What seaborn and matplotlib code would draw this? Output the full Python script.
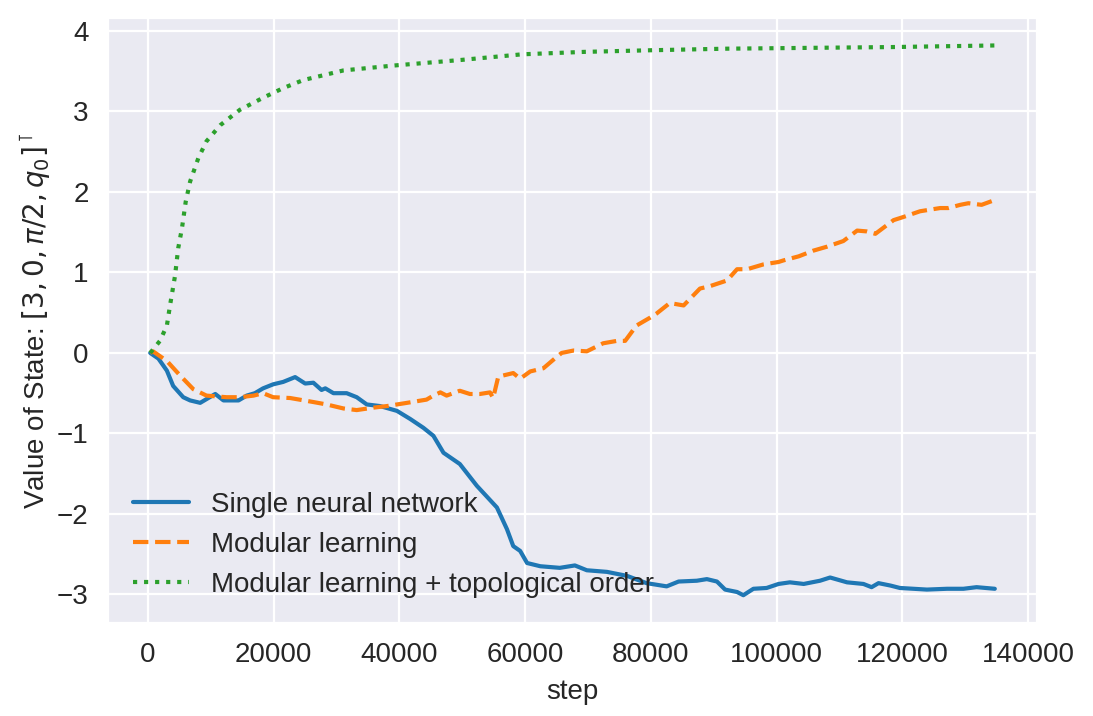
import numpy as np
import pandas as pd
import matplotlib
matplotlib.use("Agg")
import matplotlib.pyplot as plt
import seaborn as sns

# valores
steps_single = [350, 1650, 3000, 4000, 5600, 6700, 8300, 9600, 10700, 12000, 13300, 14400,
                15700, 17000, 18300, 19900, 21500, 23400, 25000, 26300, 27600, 28200,
                29500, 31600, 33200, 34800, 36900, 39600, 41700, 43800, 45400, 47000,
                49600, 52300, 55500, 57100, 58100, 59200, 60300, 62400, 65500, 67900,
                69800, 73000, 76200, 79300, 82500, 84400, 87300, 88900, 90500, 91800,
                93700, 94700, 96300, 98400, 100300, 102100, 104300, 106900, 108500,
                111200, 113800, 115100, 116200, 118100, 119600, 123900, 127100, 129700,
                131800, 134700]
value_single = [0.00, -0.07, -0.22, -0.41, -0.55, -0.59, -0.62, -0.56, -0.51, -0.59, -0.59, -0.59,
                -0.53, -0.50, -0.44, -0.39, -0.36, -0.30, -0.38, -0.37, -0.46, -0.44,
                -0.50, -0.50, -0.55, -0.64, -0.66, -0.72, -0.82, -0.93, -1.03, -1.24,
                -1.38, -1.65, -1.92, -2.19, -2.40, -2.46, -2.61, -2.65, -2.67, -2.64,
                -2.70, -2.72, -2.77, -2.86, -2.90, -2.84, -2.83, -2.81, -2.84, -2.94,
                -2.97, -3.01, -2.93, -2.92, -2.87, -2.85, -2.87, -2.83, -2.79,
                -2.85, -2.87, -2.91, -2.86, -2.89, -2.92, -2.94, -2.93, -2.93,
                -2.91, -2.93]

steps_modular = [350, 800, 3000, 5100, 7200, 9300, 12500, 14600, 16800, 18300, 19900, 22600,
                 26300, 28400, 31100, 33200, 35800, 38000, 41200, 44300, 45400, 46500,
                 47500, 49600, 51200, 52800, 54400, 54900, 55700, 56500, 58100, 59200,
                 60800, 62900, 65000, 65800, 67700, 69800, 72400, 74600, 75900, 77700,
                 79900, 80900, 83000, 85200, 87800, 89400, 92100, 93700, 95300, 97900,
                 100300, 101100, 103500, 105800, 108000, 110600, 112800, 114300, 115700,
                 118600, 120200, 122800, 126000, 127300, 129200, 130500, 132600, 134700]
value_modular = [0.00, 0.02, -0.10, -0.28, -0.45, -0.53, -0.55, -0.55, -0.53, -0.50, -0.55, -0.56,
                 -0.61, -0.64, -0.69, -0.71, -0.68, -0.66, -0.62, -0.58, -0.53, -0.49,
                 -0.53, -0.47, -0.51, -0.51, -0.49, -0.56, -0.30, -0.28, -0.25, -0.32,
                 -0.23, -0.19, -0.05, 0.00, 0.03, 0.02, 0.12, 0.15, 0.15, 0.34,
                 0.44, 0.49, 0.62, 0.59, 0.80, 0.83, 0.90, 1.04, 1.04, 1.10,
                 1.13, 1.15, 1.20, 1.27, 1.32, 1.39, 1.52, 1.51, 1.48,
                 1.65, 1.69, 1.76, 1.80, 1.80, 1.84, 1.86, 1.84, 1.90]

steps_topo = [350, 1900, 3000, 3500, 4300, 4800, 5400, 6000, 6700, 8000, 9300, 11500,
              14600, 18300, 21500, 24700, 31100, 39000, 49800, 59500, 69300, 79700,
              92100, 105100, 118200, 134700]
value_topo = [0.00, 0.15, 0.34, 0.59, 0.96, 1.30, 1.55, 1.88, 2.13, 2.42, 2.63, 2.83,
              3.02, 3.17, 3.29, 3.39, 3.51, 3.57, 3.64, 3.71, 3.74, 3.76,
              3.78, 3.79, 3.80, 3.82]

labels = ['Single neural network', 'Modular learning',
          'Modular learning + topological order']

sns.set_style('darkgrid')
plt.rcParams['font.family'] = ['Liberation Sans', 'DejaVu Sans']
plt.rcParams['font.size'] = 10

fig, ax = plt.subplots(figsize=(5.465, 3.58), dpi=200)
fig.subplots_adjust(left=0.0988, right=0.9488, bottom=0.1303, top=0.9749)

sns.lineplot(x=steps_single, y=value_single, ax=ax, label=labels[0],
             color='#1f77b4', linestyle='-', linewidth=1.5, estimator=None)
sns.lineplot(x=steps_modular, y=value_modular, ax=ax, label=labels[1],
             color='#ff7f0e', linestyle='--', linewidth=1.5, estimator=None)
sns.lineplot(x=steps_topo, y=value_topo, ax=ax, label=labels[2],
             color='#2ca02c', linestyle=':', linewidth=1.5, estimator=None)

ax.set_xlabel('step', fontsize=10)
ax.set_ylabel(r'Value of State: $[3, 0, \pi/2, q_0]^\intercal$', fontsize=10, labelpad=1.5)
ax.tick_params(labelsize=10)
ax.legend(loc='lower left', frameon=False, fontsize=10)

fig.savefig('out.png', dpi=200)
